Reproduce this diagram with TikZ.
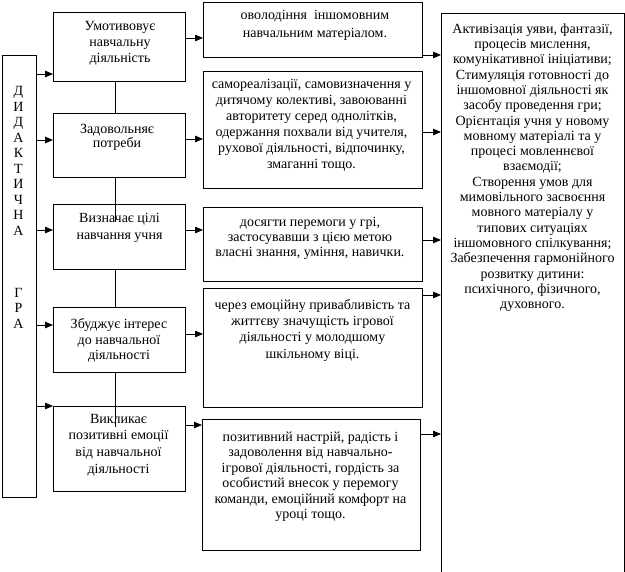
\documentclass[tikz,border=0pt]{standalone}
\usepackage{fontspec}
\setmainfont{Liberation Serif}
\usetikzlibrary{arrows.meta}
\begin{document}
\begin{tikzpicture}[x=1pt,y=-1pt,
  box/.style={draw, line width=0.8pt, anchor=north west, inner sep=0pt, outer sep=0pt},
  txt/.style={anchor=north, inner sep=0pt, align=center, execute at begin node=\strut},
  arr/.style={line width=0.8pt, -{Triangle[length=8pt,width=6.5pt]}},
  ln/.style={line width=0.8pt}]
\useasboundingbox (0,0) rectangle (625,572);
\clip (0,0) rectangle (625,572);
% boxes
\node[box, minimum width=34pt, minimum height=442pt] (G) at (2,55) {};
\node[box, minimum width=132pt, minimum height=69pt] (L1) at (53,12) {};
\node[box, minimum width=132pt, minimum height=64pt] (L2) at (53,113) {};
\node[box, minimum width=132pt, minimum height=65pt] (L3) at (53,204) {};
\node[box, minimum width=132pt, minimum height=65pt] (L4) at (53,307) {};
\node[box, minimum width=132pt, minimum height=85pt] (L5) at (53,406) {};
\node[box, minimum width=219pt, minimum height=55pt] (M1) at (203,2) {};
\node[box, minimum width=219pt, minimum height=117pt] (M2) at (203,71) {};
\node[box, minimum width=219pt, minimum height=74pt] (M3) at (203,207) {};
\node[box, minimum width=219pt, minimum height=119pt] (M4) at (203,288) {};
\node[box, minimum width=218pt, minimum height=131pt] (M5) at (202,419) {};
\node[box, minimum width=183pt, minimum height=600pt] (R) at (441,13) {};
% vertical link
\draw[ln] ([xshift=-4pt]L1.south) -- ([xshift=-4pt]L2.north);
\draw[ln] ([xshift=-4pt]L2.south) -- ([xshift=-4pt,yshift=-18pt]L3.north);
\draw[ln] ([xshift=-4pt]L3.south) -- ([xshift=-4pt]L4.north);
\draw[ln] ([xshift=-4pt]L4.south) -- ([xshift=-4pt,yshift=-21pt]L5.north);
% arrows G -> L
\draw[arr] (G.east |- 0,74) -- (L1.west |- 0,74);
\draw[arr] (G.east |- 0,140) -- (L2.west |- 0,140);
\draw[arr] (G.east |- 0,230) -- (L3.west |- 0,230);
\draw[arr] (G.east |- 0,325) -- (L4.west |- 0,325);
\draw[arr] (G.east |- 0,406) -- (L5.west |- 0,406);
% arrows L -> M
\draw[arr] (L1.east |- 0,38) -- (M1.west |- 0,38);
\draw[arr] (L2.east |- 0,139) -- (M2.west |- 0,139);
\draw[arr] (L3.east |- 0,230) -- (M3.west |- 0,230);
\draw[arr] (L4.east |- 0,334) -- (M4.west |- 0,334);
\draw[arr] (L5.east |- 0,425) -- (M5.west |- 0,425);
% arrows M -> R
\draw[arr] (M1.east |- 0,55) -- (R.west |- 0,55);
\draw[arr] (M2.east |- 0,132) -- (R.west |- 0,132);
\draw[arr] (M3.east |- 0,240) -- (R.west |- 0,240);
\draw[arr] (M4.east |- 0,295) -- (R.west |- 0,295);
\draw[arr] (M5.east |- 0,434) -- (R.west |- 0,434);
% texts
\node[txt, font={\fontsize{14}{15.5}\selectfont}] (tG) at (18.5,86.6) {Д\\И\\Д\\А\\К\\Т\\И\\Ч\\Н\\А\\ \\ \\ \\Г\\Р\\А};
\node[txt, font={\fontsize{14}{16}\selectfont}] (tL1) at (120,21.3) {Умотивовує\\навчальну\\діяльність};
\node[txt, font={\fontsize{14}{14}\selectfont}] (tL2) at (117,123.7) {Задовольняє\\потреби};
\node[txt, font={\fontsize{14}{17}\selectfont}] (tL3) at (119.5,213.5) {Визначає цілі\\навчання учня};
\node[txt, font={\fontsize{14}{15.5}\selectfont}] (tL4) at (119,318.5) {Збуджує інтерес\\до навчальної\\діяльності};
\node[txt, font={\fontsize{14}{16.7}\selectfont}] (tL5) at (118.5,413.8) {Викликає\\позитивні емоції\\від навчальної\\діяльності};
\node[txt, font={\fontsize{14}{18}\selectfont}] (tM1) at (315,9.9) {оволодіння\ \ іншомовним\\навчальним матеріалом.};
\node[txt, font={\fontsize{14}{16}\selectfont}] (tM2) at (311.5,79.3) {самореалізації, самовизначення у\\дитячому колективі, завоюванні\\авторитету серед однолітків,\\одержання похвали від учителя,\\рухової діяльності, відпочинку,\\змаганні тощо.};
\node[txt, font={\fontsize{14}{15}\selectfont}] (tM3) at (310,217) {досягти перемоги у грі,\\застосувавши з цією метою\\власні знання, уміння, навички.};
\node[txt, font={\fontsize{14}{16.3}\selectfont}] (tM4) at (312.5,299.1) {через емоційну привабливість та\\життєву значущість ігрової\\діяльності у молодшому\\шкільному віці.};
\node[txt, font={\fontsize{14}{15.4}\selectfont}] (tM5) at (310.5,431.7) {позитивний настрій, радість і\\задоволення від навчально-\\ігрової діяльності, гордість за\\особистий внесок у перемогу\\команди, емоційний комфорт на\\уроці тощо.};
\node[txt, font={\fontsize{14}{15.3}\selectfont}] (tR) at (532.5,23.3) {Активізація уяви, фантазії,\\процесів мислення,\\комунікативної ініціативи;\\Стимуляція готовності до\\іншомовної діяльності як\\засобу проведення гри;\\Орієнтація учня у новому\\мовному матеріалі та у\\процесі мовленнєвої\\взаємодії;\\Створення умов для\\мимовільного засвоєння\\мовного матеріалу у\\типових ситуаціях\\іншомовного спілкування;\\Забезпечення гармонійного\\розвитку дитини:\\психічного, фізичного,\\духовного.};
\end{tikzpicture}
\end{document}
